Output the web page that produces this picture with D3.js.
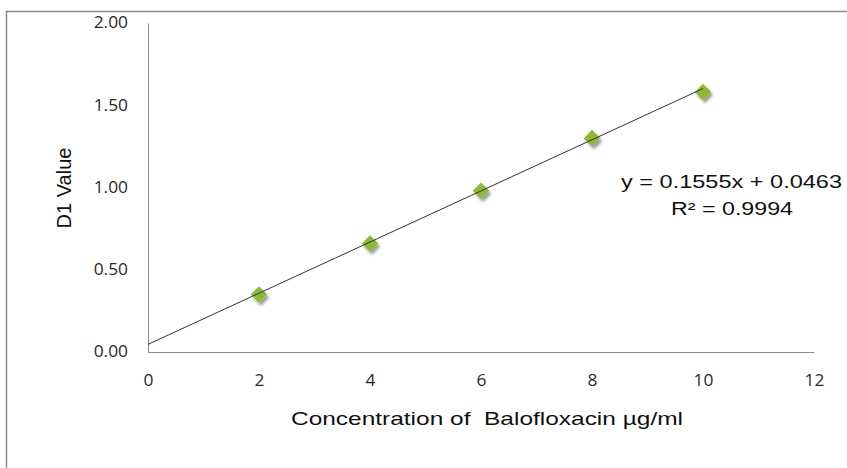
<!DOCTYPE html>
<html>
<head>
<meta charset="utf-8">
<script src="https://cdn.jsdelivr.net/npm/d3@7"></script>
<style>
  body { margin: 0; background: #fff; }
  svg { display: block; }
</style>
</head>
<body>
<div id="chart"></div>
<script>
// data
var concentrations = [2, 4, 6, 8, 10];
var d1Values = [0.35, 0.66, 0.98, 1.30, 1.58];
var xTicks = [0, 2, 4, 6, 8, 10, 12];
var yTicks = [0, 0.5, 1.0, 1.5, 2.0];
var slope = 0.1555;
var intercept = 0.0463;
var equationLines = ['y = 0.1555x + 0.0463', 'R\u00b2 = 0.9994'];

var width = 847, height = 468;

var svg = d3.select('#chart').append('svg')
    .attr('width', width)
    .attr('height', height);

var defs = svg.append('defs');
var shadow = defs.append('filter').attr('id', 'shadow')
    .attr('x', '-50%').attr('y', '-50%').attr('width', '200%').attr('height', '200%');
shadow.append('feGaussianBlur').attr('in', 'SourceAlpha').attr('stdDeviation', 1.8);
shadow.append('feOffset').attr('dx', 1.5).attr('dy', 2.5).attr('result', 'off');
shadow.append('feComponentTransfer').append('feFuncA').attr('type', 'linear').attr('slope', 0.4);
var merge = shadow.append('feMerge');
merge.append('feMergeNode');
merge.append('feMergeNode').attr('in', 'SourceGraphic');

// outer chart frame (cut off on right and bottom)
svg.append('path')
    .attr('d', 'M6.5,' + (height + 2) + 'V11.5H' + (width + 2))
    .style('fill', 'none')
    .style('stroke', '#8c8c8c')
    .style('stroke-width', 1.5);

var x = d3.scaleLinear().domain([0, 12]).range([148, 814]);
var y = d3.scaleLinear().domain([0, 2]).range([352, 23]);

// axes (no tick marks)
var xAxis = svg.append('g')
    .attr('transform', 'translate(0,' + y(0) + ')')
    .call(d3.axisBottom(x).tickValues(xTicks).tickSize(0).tickPadding(23)
        .tickFormat(d3.format('d')));
var yAxis = svg.append('g')
    .attr('transform', 'translate(' + x(0) + ',0)')
    .call(d3.axisLeft(y).tickValues(yTicks).tickSize(0).tickPadding(20)
        .tickFormat(d3.format('.2f')));

[xAxis, yAxis].forEach(function(a) {
    a.select('.domain').style('stroke', '#8a8a8a').style('stroke-width', 1);
    a.selectAll('text')
        .style('font-family', '"Open Sans", sans-serif')
        .style('font-size', '15.5px')
        .style('fill', '#2a2a2a')
        .each(function() {
            // the original text is a little wider than normal
            var w = this.getComputedTextLength();
            d3.select(this).attr('textLength', w * 1.12).attr('lengthAdjust', 'spacingAndGlyphs');
        });
});

// markers
var pts = concentrations.map(function(c, i) { return { x: c, y: d1Values[i] }; });
svg.selectAll('.pt')
    .data(pts)
    .enter()
    .append('path')
    .attr('class', 'pt')
    .attr('d', d3.symbol().type(d3.symbolDiamond2).size(175))
    .attr('transform', function(d) { return 'translate(' + x(d.x) + ',' + y(d.y) + ')'; })
    .style('fill', '#8aba38')
    .attr('filter', 'url(#shadow)');

// trendline, drawn over the markers
svg.append('line')
    .attr('x1', x(0)).attr('y1', y(intercept))
    .attr('x2', x(10)).attr('y2', y(slope * 10 + intercept))
    .style('stroke', '#333')
    .style('stroke-width', 1);

// axis titles
svg.append('text')
    .attr('x', 291).attr('y', 425)
    .style('font-family', '"Liberation Sans", Arial, sans-serif')
    .style('font-size', '19px')
    .style('white-space', 'pre')
    .attr('textLength', 392)
    .attr('lengthAdjust', 'spacingAndGlyphs')
    .style('fill', '#111')
    .text('Concentration of  Balofloxacin \u00b5g/ml');

svg.append('text')
    .attr('transform', 'translate(71,188) rotate(-90)')
    .style('text-anchor', 'middle')
    .style('font-family', '"Liberation Sans", Arial, sans-serif')
    .style('font-size', '20px')
    .style('fill', '#111')
    .text('D1 Value');

// trendline equation
var eqLeft = [621, 671];
var eqWidth = [221, 122];
svg.append('g').selectAll('text')
    .data(equationLines)
    .enter()
    .append('text')
    .attr('x', function(d, i) { return eqLeft[i]; })
    .attr('y', function(d, i) { return 188 + i * 27; })
    .attr('textLength', function(d, i) { return eqWidth[i]; })
    .attr('lengthAdjust', 'spacingAndGlyphs')
    .style('font-family', '"Liberation Sans", Arial, sans-serif')
    .style('font-size', '18px')
    .style('fill', '#111')
    .text(function(d) { return d; });
</script>
</body>
</html>
